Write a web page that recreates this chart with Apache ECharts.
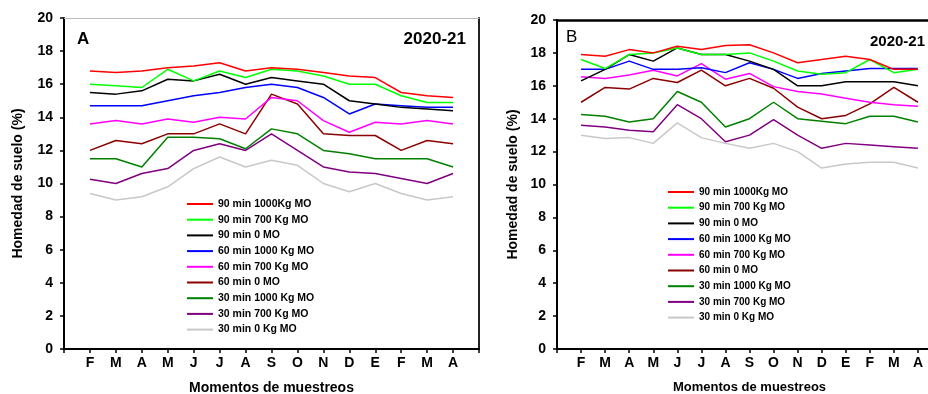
<!DOCTYPE html>
<html>
<head>
<meta charset="utf-8">
<script src="https://cdn.jsdelivr.net/npm/echarts@6/dist/echarts.min.js"></script>
<style>
  html, body { margin: 0; padding: 0; background: #fff; }
  #chart { width: 928px; height: 394px; }
</style>
</head>
<body>
<div id="chart"></div>
<script>
// meses de muestreo (F ... A)
const months = ['F', 'M', 'A', 'M', 'J', 'J', 'A', 'S', 'O', 'N', 'D', 'E', 'F', 'M', 'A'];
const names = [
    '90 min 1000Kg MO', '90 min 700 Kg MO', '90 min 0 MO',
    '60 min 1000 Kg MO', '60 min 700 Kg MO', '60 min 0 MO',
    '30 min 1000 Kg MO', '30 min 700 Kg MO', '30 min 0 Kg MO'
];
const colors = ['#ff0000', '#00ff00', '#000000', '#0000ff', '#ff00ff', '#8b0000', '#008000', '#800080', '#c8c8c8'];
const yTicks = [0, 2, 4, 6, 8, 10, 12, 14, 16, 18, 20];

// Panel A
const a90_1000 = [16.8, 16.7, 16.8, 17.0, 17.1, 17.3, 16.8, 17.0, 16.9, 16.7, 16.5, 16.4, 15.5, 15.3, 15.2];
const a90_700 = [16.0, 15.9, 15.8, 16.9, 16.2, 16.8, 16.4, 16.9, 16.8, 16.5, 16.0, 16.0, 15.3, 14.9, 14.9];
const a90_0 = [15.5, 15.4, 15.6, 16.3, 16.2, 16.6, 16.0, 16.4, 16.2, 16.0, 15.0, 14.8, 14.6, 14.5, 14.4];
const a60_1000 = [14.7, 14.7, 14.7, 15.0, 15.3, 15.5, 15.8, 16.0, 15.8, 15.2, 14.2, 14.8, 14.7, 14.6, 14.6];
const a60_700 = [13.6, 13.8, 13.6, 13.9, 13.7, 14.0, 13.9, 15.2, 15.0, 13.8, 13.1, 13.7, 13.6, 13.8, 13.6];
const a60_0 = [12.0, 12.6, 12.4, 13.0, 13.0, 13.6, 13.0, 15.4, 14.8, 13.0, 12.9, 12.9, 12.0, 12.6, 12.4];
const a30_1000 = [11.5, 11.5, 11.0, 12.8, 12.8, 12.7, 12.1, 13.3, 13.0, 12.0, 11.8, 11.5, 11.5, 11.5, 11.0];
const a30_700 = [10.25, 10.0, 10.6, 10.9, 12.0, 12.4, 12.0, 13.0, 12.0, 11.0, 10.7, 10.6, 10.3, 10.0, 10.6];
const a30_0 = [9.4, 9.0, 9.2, 9.8, 10.9, 11.6, 11.0, 11.4, 11.1, 10.0, 9.5, 10.0, 9.4, 9.0, 9.2];

// Panel B
const b90_1000 = [17.9, 17.8, 18.2, 18.0, 18.4, 18.2, 18.45, 18.5, 18.0, 17.4, 17.6, 17.8, 17.6, 17.0, 17.0];
const b90_700 = [17.6, 17.05, 17.9, 18.0, 18.3, 17.9, 17.9, 18.0, 17.5, 16.9, 16.7, 16.8, 17.6, 16.8, 17.0];
const b90_0 = [16.3, 17.0, 17.9, 17.5, 18.3, 17.9, 17.9, 17.5, 17.0, 16.0, 16.0, 16.25, 16.25, 16.25, 16.0];
const b60_1000 = [17.0, 17.0, 17.5, 17.0, 17.0, 17.1, 16.8, 17.4, 17.0, 16.45, 16.75, 16.9, 17.05, 17.05, 17.05];
const b60_700 = [16.55, 16.45, 16.65, 16.95, 16.6, 17.35, 16.4, 16.75, 15.95, 15.65, 15.5, 15.25, 15.0, 14.85, 14.75];
const b60_0 = [15.0, 15.9, 15.8, 16.45, 16.2, 16.95, 16.0, 16.45, 15.85, 14.7, 14.0, 14.2, 14.9, 15.9, 15.0];
const b30_1000 = [14.25, 14.15, 13.8, 14.0, 15.65, 15.0, 13.5, 14.0, 15.0, 14.0, 13.85, 13.7, 14.15, 14.15, 13.8];
const b30_700 = [13.6, 13.5, 13.3, 13.2, 14.85, 14.0, 12.6, 13.0, 13.95, 13.0, 12.2, 12.5, 12.4, 12.3, 12.2];
const b30_0 = [13.0, 12.8, 12.85, 12.5, 13.75, 12.85, 12.5, 12.2, 12.5, 12.0, 11.0, 11.25, 11.35, 11.35, 11.0];

const panelA = [a90_1000, a90_700, a90_0, a60_1000, a60_700, a60_0, a30_1000, a30_700, a30_0];
const panelB = [b90_1000, b90_700, b90_0, b60_1000, b60_700, b60_0, b30_1000, b30_700, b30_0];

const font = '"Liberation Sans", Arial, sans-serif';

var dom = document.getElementById('chart');
var chart = echarts.init(dom, null, { renderer: 'canvas' });

let mkX = (g, fs) => ({
    type: 'value',
    gridIndex: g,
    min: 0,
    max: 16,
    interval: 1,
    name: 'Momentos de muestreos',
    nameLocation: 'middle',
    nameGap: 32,
    nameTextStyle: { fontFamily: font, fontWeight: 'bold', fontSize: fs, color: '#000' },
    axisLine: { onZero: false, lineStyle: { color: '#000', width: 2 } },
    axisTick: { length: 4, lineStyle: { color: '#000', width: 1.5 } },
    axisLabel: {
        margin: 7,
        fontFamily: font, fontWeight: 'bold', fontSize: 14, color: '#000',
        formatter: v => months[v - 1] || ''
    },
    splitLine: { show: false }
});

// top / right frame lines
let mkFrameX = (g, color, width) => ({
    type: 'value', gridIndex: g, position: 'top', min: 0, max: 16,
    axisLine: { onZero: false, lineStyle: { color: color, width: width } },
    axisTick: { show: false }, axisLabel: { show: false }, splitLine: { show: false }
});

let mkY = (g, gap) => ({
    type: 'value',
    gridIndex: g,
    min: 0,
    max: 20,
    interval: 2,
    name: 'Homedad de suelo (%)',
    nameLocation: 'middle',
    nameGap: gap,
    nameTextStyle: { fontFamily: font, fontWeight: 'bold', fontSize: 14, color: '#000' },
    axisLine: { show: true, onZero: false, lineStyle: { color: '#000', width: 2 } },
    axisTick: { show: true, length: 4, lineStyle: { color: '#000', width: 1.5 } },
    axisLabel: {
        margin: 11,
        fontFamily: font, fontWeight: 'bold', fontSize: 14, color: '#000',
        formatter: v => yTicks.includes(v) ? String(v) : ''
    },
    splitLine: { show: false }
});

let series = [];
panelA.forEach((d, k) => {
    series.push({
        name: names[k], type: 'line', xAxisIndex: 0, yAxisIndex: 0,
        data: d.map((v, i) => [i + 1, v]),
        symbol: 'none', lineStyle: { color: colors[k], width: 1.5 }, itemStyle: { color: colors[k] },
        z: 10 - k
    });
});
panelB.forEach((d, k) => {
    series.push({
        name: names[k], type: 'line', xAxisIndex: 1, yAxisIndex: 1,
        data: d.map((v, i) => [i + 1, v]),
        symbol: 'none', lineStyle: { color: colors[k], width: 1.5 }, itemStyle: { color: colors[k] },
        z: 10 - k
    });
});

let mkLegend = (left, top, fs) => ({
    data: names,
    orient: 'vertical',
    left: left,
    top: top,
    padding: 0,
    icon: 'rect',
    itemWidth: 26,
    itemHeight: 2,
    itemGap: 3.7,
    itemTextGap: 7,
    selectedMode: false,
    textStyle: { fontFamily: font, fontWeight: 'bold', fontSize: fs, lineHeight: 12, color: '#000' }
});

var option = {
    animation: false,
    backgroundColor: '#fff',
    grid: [
        { left: 64, top: 18, width: 415, height: 331, outerBoundsMode: 'none' },
        { left: 557, top: 20, width: 385, height: 329, outerBoundsMode: 'none' }
    ],
    xAxis: [mkX(0, 14), mkX(1, 13), mkFrameX(0, '#bbb', 1), mkFrameX(1, '#000', 2.5)],
    yAxis: [
        mkY(0, 39), mkY(1, 37),
        { type: 'value', gridIndex: 0, position: 'right', min: 0, max: 20,
          axisLine: { show: true, onZero: false, lineStyle: { color: '#222', width: 2 } },
          axisTick: { show: false }, axisLabel: { show: false }, splitLine: { show: false } }
    ],
    legend: [mkLegend(187, 198, 10.5), mkLegend(668, 186, 10)],
    graphic: [
        { type: 'text', left: 77, top: 31, style: { text: 'A', font: 'bold 17px ' + font, fill: '#000' } },
        { type: 'text', right: 928 - 466, top: 31, style: { text: '2020-21', font: 'bold 17px ' + font, fill: '#000' } },
        { type: 'text', left: 566, top: 29, style: { text: 'B', font: '17px ' + font, fill: '#000' } },
        { type: 'text', right: 3, top: 34, style: { text: '2020-21', font: 'bold 15px ' + font, fill: '#000' } }
    ],
    series: series
};

chart.setOption(option);
window.addEventListener('resize', chart.resize);
</script>
</body>
</html>
